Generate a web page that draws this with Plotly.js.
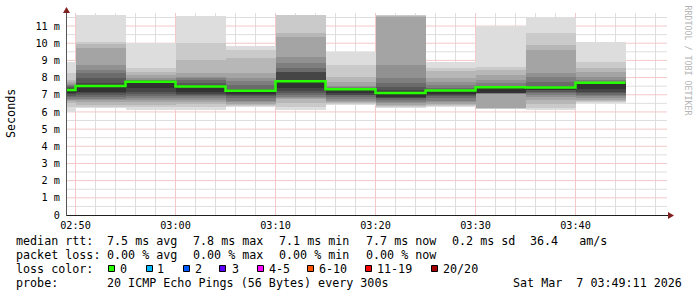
<!DOCTYPE html>
<html><head><meta charset="utf-8">
<script src="https://cdn.plot.ly/plotly-3.0.1.min.js"></script>
<style>
html,body{margin:0;padding:0;background:#fff;}
#chart{width:697px;height:297px;}
.scatterlayer path.js-fill{shape-rendering:crispEdges;}
</style></head><body><div id="chart"></div>
<script>
// ---------- data ----------
const day = '2026-03-07 ';
const intervalStart = ['02:45','02:50','02:55','03:00','03:05','03:10','03:15','03:20','03:25','03:30','03:35','03:40'];
const intervalEnd = '03:45';
// 20 sorted ping round-trip times (ms) of each 5-minute interval, lowest first
const s0245 = [6.00,6.30,6.52,6.62,6.70,6.78,6.85,6.92,7.02,7.12,7.28,7.38,7.45,7.52,7.58,7.65,7.75,7.86,8.25,8.92];
const s0250 = [6.21,6.29,6.40,6.55,6.69,6.78,6.87,6.98,7.10,7.18,7.51,7.70,7.96,8.25,8.44,8.73,9.74,9.95,10.09,11.64];
const s0255 = [6.11,6.26,6.40,6.55,6.72,6.84,6.93,7.04,7.18,7.37,7.76,7.79,7.81,7.84,7.88,7.96,8.15,8.34,8.54,9.99];
const s0300 = [6.11,6.26,6.44,6.58,6.69,6.81,6.90,6.98,7.07,7.18,7.48,7.58,7.67,7.86,7.95,8.05,8.25,9.02,9.99,11.58];
const s0305 = [6.30,6.34,6.40,6.46,6.55,6.65,6.79,6.90,6.96,7.04,7.23,7.28,7.33,7.57,7.82,7.96,8.25,9.12,9.60,9.84];
const s0310 = [6.11,6.30,6.50,6.73,6.81,6.88,6.98,7.08,7.24,7.37,7.78,8.33,8.34,8.54,8.83,9.21,10.38,10.58,11.63,11.64];
const s0315 = [6.40,6.44,6.50,6.58,6.66,6.75,6.85,6.96,7.01,7.10,7.32,7.35,7.37,7.40,7.43,7.51,7.76,8.05,8.73,9.51];
const s0320 = [6.25,6.29,6.34,6.40,6.50,6.60,6.69,6.79,6.84,6.89,7.10,7.28,7.43,7.67,7.96,8.73,11.55,11.60,11.62,11.64];
const s0325 = [6.29,6.34,6.40,6.46,6.55,6.65,6.79,6.93,6.98,7.04,7.25,7.30,7.35,7.40,7.57,7.76,7.96,8.40,8.54,8.92];
const s0330 = [6.17,6.19,6.21,6.25,7.06,7.07,7.08,7.09,7.10,7.12,7.44,7.47,7.49,7.51,7.67,7.86,8.15,8.44,8.63,11.00];
const s0335 = [6.11,6.25,6.44,6.69,6.85,6.98,7.08,7.18,7.25,7.30,7.42,7.46,7.51,7.76,8.05,8.25,9.60,9.90,10.58,11.45];
const s0340 = [6.52,6.58,6.62,6.70,6.80,6.90,6.98,7.10,7.18,7.33,7.70,7.72,7.74,7.76,7.86,8.05,8.34,8.54,8.92,10.09];
const samples = [s0245,s0250,s0255,s0300,s0305,s0310,s0315,s0320,s0325,s0330,s0335,s0340];
const medianRtt = [7.28,7.51,7.76,7.48,7.23,7.78,7.32,7.10,7.25,7.44,7.42,7.70];

const yTickVals = [0,1,2,3,4,5,6,7,8,9,10,11];
const yTickText = ['0','1 m','2 m','3 m','4 m','5 m','6 m','7 m','8 m','9 m','10 m','11 m'];
const xTickVals = ['02:50','03:00','03:10','03:20','03:30','03:40'];
const xTickText = ['02:50','03:00','03:10','03:20','03:30','03:40'];

const statsRow1 = ['median rtt:','7.5 ms avg','7.8 ms max','7.1 ms min','7.7 ms now','0.2 ms sd','36.4   am/s'];
const statsRow2 = ['packet loss:','0.00 % avg','0.00 % max','0.00 % min','0.00 % now'];
const lossLabels = ['0','1','2','3','4-5','6-10','11-19','20/20'];
const lossColors = ['#26ff00','#00b8ff','#0059ff','#5e00ff','#ff00ff','#ff5500','#ff0000','#a00000'];
const probeText = ['probe:','20 ICMP Echo Pings (56 Bytes) every 300s','Sat Mar  7 03:49:11 2026'];

// ---------- build ----------
const MONO = 'DejaVu Sans Mono';
const L = 67, T = 13, W = 600, H = 202, B0 = T + H;
const px = x => (x - L) / W;
const py = y => (B0 - y) / H;
const ts = hm => day + hm + ':00';
const fmtMin = m => { const h = Math.floor(m / 60), mm = m % 60; return day + String(h).padStart(2,'0') + ':' + String(mm).padStart(2,'0') + ':00'; };
const xs = intervalStart.map(ts).concat([ts(intervalEnd)]);
const ext = arr => arr.concat([arr[arr.length - 1]]);
const xRange = [day + '02:49:09', day + '03:49:09'];
const yMax = 11.76;

const traces = [];
for (let b = 1; b <= 10; b++) {
  const g = Math.floor(190 / 10 * (10 - b)) + 50;
  const col = 'rgb(' + g + ',' + g + ',' + g + ')';
  traces.push({x: xs, y: ext(samples.map(s => s[b - 1])), mode: 'lines', line: {width: 0, shape: 'hv'}, hoverinfo: 'skip', showlegend: false});
  traces.push({x: xs, y: ext(samples.map(s => s[20 - b])), mode: 'lines', line: {width: 0, shape: 'hv'}, fill: 'tonexty', fillcolor: col, hoverinfo: 'skip', showlegend: false});
}
traces.push({x: xs, y: ext(medianRtt), mode: 'lines', line: {color: '#26ff00', width: 2.5, shape: 'hv'}, hoverinfo: 'skip', showlegend: false});

const nb = s => s.replace(/ /g, '\u00a0');
const ann = [];
function txt(x, y, s, size, extra) {
  ann.push(Object.assign({xref: 'paper', yref: 'paper', x: px(x), y: py(y), text: nb(s), showarrow: false,
    xanchor: 'left', yanchor: 'middle', borderpad: 0, font: {family: MONO, size: size || 11.7, color: '#000'}}, extra || {}));
}
const row1X = [16, 107.3, 193.3, 279.3, 366, 451.7, 530];
statsRow1.forEach((s, i) => txt(row1X[i] - 1, 241, s));
const row2X = [16, 107.3, 193.3, 279.3, 366];
statsRow2.forEach((s, i) => txt(row2X[i] - 1, 255, s));
txt(15, 268.5, 'loss color:');
const boxX = [108, 146, 183, 219, 257, 307, 365, 431];
const labX = [120, 157.3, 195, 232.3, 269.3, 319.3, 377.3, 442.7];
lossLabels.forEach((s, i) => txt(labX[i] - 1, 268.5, s));
txt(15, 282.5, probeText[0]);
txt(106.3, 282.5, probeText[1]);
txt(512.3, 282.5, probeText[2]);
ann.push({xref: 'paper', yref: 'paper', x: px(11), y: py(114), text: 'Seconds', textangle: -90, showarrow: false,
  xanchor: 'center', yanchor: 'middle', font: {family: MONO, size: 11.7, color: '#000'}});
ann.push({xref: 'paper', yref: 'paper', x: px(687.5), y: py(60), text: nb('RRDTOOL / TOBI OETIKER'), textangle: 90, showarrow: false,
  xanchor: 'center', yanchor: 'middle', font: {family: MONO, size: 8.3, color: '#b4b4b4'}});

const shapes = [];
// light grid (solid opaque tints approximating the dotted rrdtool grid)
const MINOR = '#dedede', MAJOR = '#f3c8c8';
const vLine = (t, c) => ({type: 'line', xref: 'x', yref: 'paper', x0: t, x1: t, y0: 0, y1: 1, layer: 'below', line: {color: c, width: 1}});
const hLine = (v, c) => ({type: 'line', xref: 'paper', yref: 'y', x0: 0, x1: 1, y0: v, y1: v, layer: 'below', line: {color: c, width: 1}});
for (let m = 172; m <= 228; m += 2) if (m % 10 !== 0) shapes.push(vLine(fmtMin(m), MINOR));
for (let k = 1; k * 0.5 < yMax; k += 2) shapes.push(hLine(k * 0.5, MINOR));
for (let m = 170; m <= 228; m += 10) shapes.push(vLine(fmtMin(m), MAJOR));
for (let v = 1; v < yMax; v++) shapes.push(hLine(v, MAJOR));

const pxs = o => Object.assign({xref: 'paper', yref: 'paper', xsizemode: 'pixel', ysizemode: 'pixel', xanchor: 0, yanchor: 0, layer: 'above'}, o);
shapes.push(pxs({type: 'line', x0: 0, x1: 602, y0: -0.5, y1: -0.5, line: {color: '#1f1f1f', width: 1}}));
shapes.push(pxs({type: 'line', x0: -0.5, x1: -0.5, y0: -1, y1: 203, line: {color: '#555555', width: 1}}));
shapes.push(pxs({type: 'path', path: 'M -4,202 L 3,202 L -0.5,208 Z', fillcolor: '#801f1f', line: {width: 0}}));
shapes.push(pxs({type: 'path', path: 'M 601,3 L 601,-4 L 607,-0.5 Z', fillcolor: '#801f1f', line: {width: 0}}));
boxX.forEach((bx, i) => shapes.push(pxs({type: 'rect', x0: bx - L + 0.5, x1: bx - L + 6.5, y0: B0 - 265.5, y1: B0 - 271.5,
  fillcolor: lossColors[i], line: {color: '#000', width: 1}})));

const layout = {
  width: 697, height: 297, margin: {l: L, r: 697 - L - W, t: T, b: 297 - B0},
  paper_bgcolor: '#ffffff', plot_bgcolor: '#ffffff', showlegend: false,
  xaxis: {type: 'date', range: xRange, showgrid: false, zeroline: false, showline: false,
    tickmode: 'array', tickvals: xTickVals.map(ts), ticktext: xTickText, ticks: 'outside', ticklen: 1,
    tickcolor: 'rgba(0,0,0,0)', tickfont: {family: MONO, size: 10.2, color: '#000'}},
  yaxis: {range: [0, yMax], showgrid: false, zeroline: false, showline: false,
    tickmode: 'array', tickvals: yTickVals, ticktext: yTickText, ticks: 'outside', ticklen: 4,
    tickcolor: 'rgba(0,0,0,0)', tickfont: {family: MONO, size: 10.2, color: '#000'}},
  shapes: shapes, annotations: ann
};
Plotly.newPlot('chart', traces, layout, {displayModeBar: false, staticPlot: true});
</script></body></html>
